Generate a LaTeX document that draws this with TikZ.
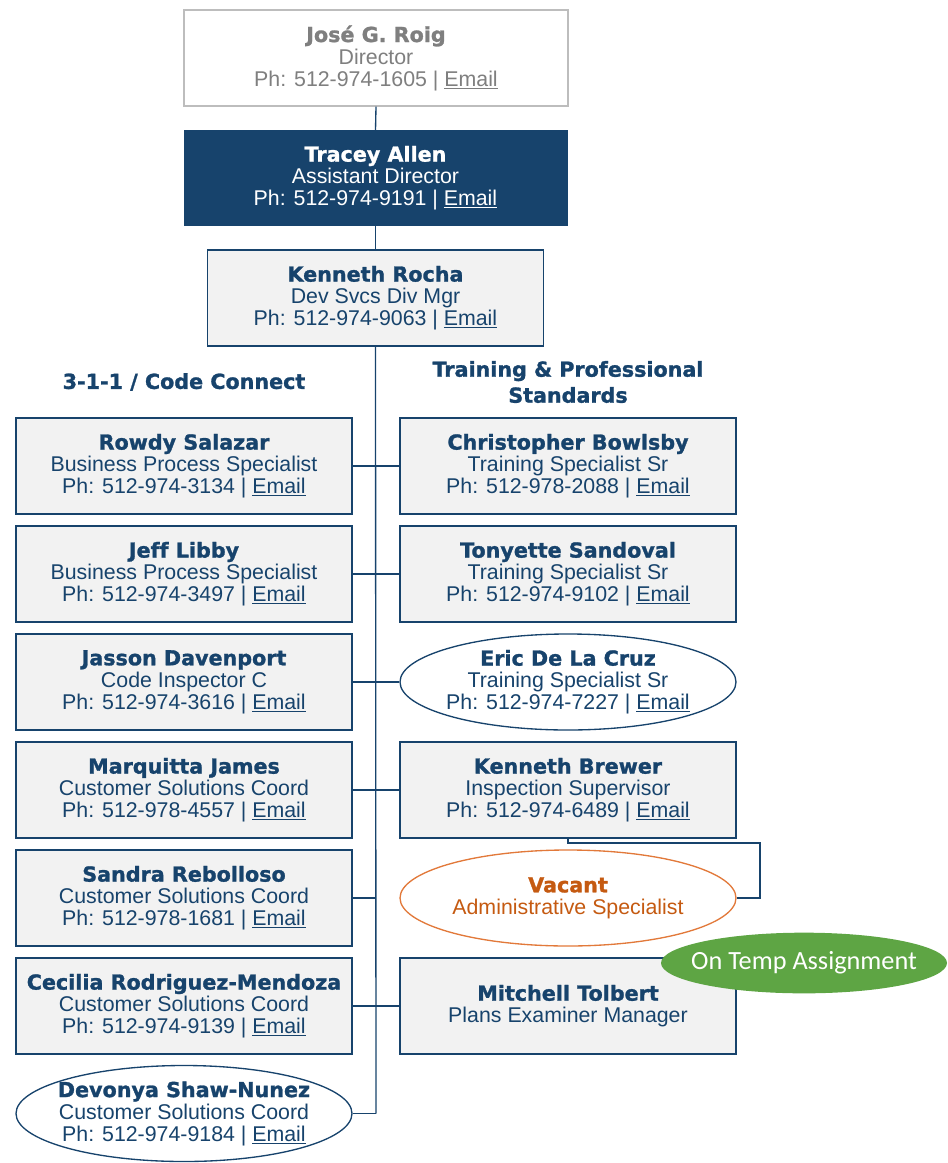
\documentclass[tikz,border=0pt]{standalone}
\usepackage{fontspec}
\setmainfont{Liberation Sans}
\newfontfamily\dvs[FakeBold=1.3,Ligatures=NoCommon]{DejaVu Sans}
\newfontfamily\carl{Carlito}
\usetikzlibrary{shapes.geometric}
\definecolor{navy}{HTML}{17436C}
\definecolor{boxfill}{HTML}{F2F2F2}
\definecolor{grayt}{HTML}{7F7F7F}
\definecolor{grayb}{HTML}{BDBDBD}
\definecolor{oranget}{HTML}{C55A11}
\definecolor{orangeb}{HTML}{E2793A}
\definecolor{tempgreen}{HTML}{5EA544}
\newcommand\nm[1]{{\dvs\bfseries\fontsize{15.5}{16.5}\selectfont #1}}
\newcommand\eml{\underline{Email}}
\begin{document}
\begin{tikzpicture}[x=0.75pt,y=-0.75pt,
  box/.style={draw=navy, line width=1pt, fill=boxfill, minimum width=252pt, minimum height=72pt,
    inner sep=0pt, align=center, text=navy, font=\fontsize{16}{16.5}\selectfont},
  ell/.style={box, ellipse, fill=white, inner xsep=-70pt, inner ysep=-20pt},
  conn/.style={draw=navy, line width=1pt},
  hdr/.style={text=navy, align=center, font=\dvs\bfseries\fontsize{15.5}{19.5}\selectfont}]
\useasboundingbox (0,0) rectangle (947,1163);

% top chain
\node[box, draw=grayb, fill=white, text=grayt, minimum width=288pt] (jose) at (376,58)
  {\nm{José G. Roig}\\Director\\Ph: 512-974-1605 | \eml};
\node[box, fill=navy, text=white, minimum width=287pt, minimum height=70.5pt] (tracey) at (375.5,178)
  {\nm{Tracey Allen}\\Assistant Director\\Ph: 512-974-9191 | \eml};
\node[box] (rocha) at (375.5,298)
  {\nm{Kenneth Rocha}\\Dev Svcs Div Mgr\\Ph: 512-974-9063 | \eml};

% headers
\node[hdr] (hleft) at (184,382) {3-1-1 / Code Connect};
\node[hdr] (hright) at (568,382) {Training \& Professional\\Standards};

% left column
\node[box] (l1) at (184,466) {\nm{Rowdy Salazar}\\Business Process Specialist\\Ph: 512-974-3134 | \eml};
\node[box] (l2) at (184,574) {\nm{Jeff Libby}\\Business Process Specialist\\Ph: 512-974-3497 | \eml};
\node[box] (l3) at (184,682) {\nm{Jasson Davenport}\\Code Inspector C\\Ph: 512-974-3616 | \eml};
\node[box] (l4) at (184,790) {\nm{Marquitta James}\\Customer Solutions Coord\\Ph: 512-978-4557 | \eml};
\node[box] (l5) at (184,898) {\nm{Sandra Rebolloso}\\Customer Solutions Coord\\Ph: 512-978-1681 | \eml};
\node[box] (l6) at (184,1006) {\nm{Cecilia Rodriguez-Mendoza}\\Customer Solutions Coord\\Ph: 512-974-9139 | \eml};
\node[ell] (l7) at (184,1113.5) {\nm{Devonya Shaw-Nunez}\\Customer Solutions Coord\\Ph: 512-974-9184 | \eml};

% right column
\node[box] (r1) at (568,466) {\nm{Christopher Bowlsby}\\Training Specialist Sr\\Ph: 512-978-2088 | \eml};
\node[box] (r2) at (568,574) {\nm{Tonyette Sandoval}\\Training Specialist Sr\\Ph: 512-974-9102 | \eml};
\node[ell] (r3) at (568,682) {\nm{Eric De La Cruz}\\Training Specialist Sr\\Ph: 512-974-7227 | \eml};
\node[box] (r4) at (568,790) {\nm{Kenneth Brewer}\\Inspection Supervisor\\Ph: 512-974-6489 | \eml};
\node[ell, draw=orangeb, text=oranget] (vac) at (568,898) {\nm{Vacant}\\Administrative Specialist};
\node[box] (r6) at (568,1006) {\nm{Mitchell Tolbert}\\Plans Examiner Manager};

\node[ellipse, fill=tempgreen, text=white, inner xsep=-60pt, inner ysep=-10pt, minimum width=214.5pt, minimum height=45.5pt,
  font=\carl\fontsize{19.7}{20}\selectfont] (temp) at (804,963) {On Temp Assignment};

% connectors
\coordinate (trunkend) at (376,1113.5);
\coordinate (vc) at (760,843);
\draw[conn] (jose.south) -- (tracey.north);
\draw[conn] (tracey.south) -- (rocha.north);
\draw[conn] (rocha.south) -- (trunkend);
\draw[conn] (l1.east) -- (r1.west);
\draw[conn] (l2.east) -- (r2.west);
\draw[conn] (l3.east) -- (r3.west);
\draw[conn] (l4.east) -- (r4.west);
\draw[conn] (l6.east) -- (r6.west);
\draw[conn] (l5.east) -- (l5.east -| trunkend);
\draw[conn] (l7.east) -- (trunkend);
\draw[conn] (r4.south) |- (vc) |- (vac.east);
\end{tikzpicture}
\end{document}
